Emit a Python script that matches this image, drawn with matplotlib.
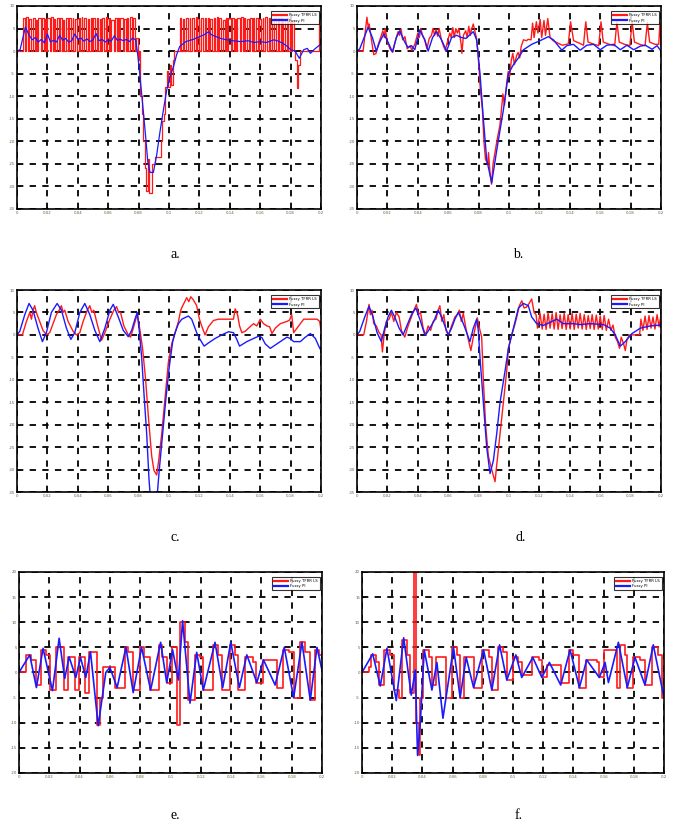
import numpy as np
import matplotlib.pyplot as plt

# time in ms
# panel a
red_a = [(0, 0), (4, 7.3), (5, 0), (6, 7.5), (7, 0), (8, 7.2), (9.5, 0), (10.5, 7.3), (11.5, 0), (12.5, 7.0),
         (13, 0), (14, 7.4), (15.5, 0), (16.5, 7.3), (17.5, 0), (18.5, 7.1), (19, 0), (20, 7.3), (21.5, 0),
         (22.5, 7.5), (23.5, 0), (24.5, 7.2), (25, 0), (26, 7.3), (27.5, 0), (28.5, 7.3), (29.5, 0), (30.5, 7.0),
         (31, 0), (32, 7.3), (33.5, 0), (34.5, 7.4), (35.5, 0), (36.5, 7.3), (37, 0), (38, 7.2), (39.5, 0),
         (40.5, 7.3), (41.5, 0), (42.5, 7.5), (43, 0), (44, 7.3), (45.5, 0), (46.5, 7.1), (47.5, 0), (48.5, 7.3),
         (49, 0), (50, 7.4), (51.5, 0), (52.5, 7.3), (53.5, 0), (54.5, 7.2), (55, 0), (56, 7.3), (57.5, 0),
         (58.5, 7.5), (59.5, 0), (60.5, 7.3), (61, 0), (62, 7.0), (63.5, 0), (64.5, 7.3), (65.5, 0), (66.5, 7.4),
         (67, 0), (68, 7.3), (69.5, 0), (70.5, 7.2), (71.5, 0), (72.5, 7.3), (73, 0), (74, 7.5), (75.5, 0),
         (76.5, 7.3), (77.5, 0), (78.5, 3), (79.5, -2), (80.5, 0), (81, -10), (82, -14), (83, -20), (84, -26),
         (85, -31), (86, -24), (87, -31.5), (89, -25), (90.5, -23.5), (95, -20), (95.5, -15.5), (96.5, -14),
         (97.5, -8), (98.5, -4.5), (99.5, -8), (100.5, -3), (101.5, -7.5), (102.5, -2), (103.5, 0), (107, 7.3),
         (108, 0), (109, 7.2), (110, 0), (111, 7.4), (112.5, 0), (113.5, 7.3), (114, 0), (115, 7.3), (116.5, 0),
         (117.5, 7.5), (118.5, 0), (119.5, 7.1), (120, 0), (121, 7.3), (122.5, 0), (123.5, 7.3), (124.5, 0),
         (125.5, 7.4), (126, 0), (127, 7.2), (128.5, 0), (129.5, 7.3), (130.5, 0), (131.5, 7.5), (132, 0),
         (133, 7.3), (134.5, 0), (135.5, 7.0), (136.5, 0), (137.5, 7.3), (138, 0), (139, 7.4), (140.5, 0),
         (141.5, 7.3), (142.5, 0), (143.5, 7.2), (144, 0), (145, 7.3), (146.5, 0), (147.5, 7.5), (148.5, 0),
         (149.5, 7.3), (150, 0), (151, 7.1), (152.5, 0), (153.5, 7.3), (154.5, 0), (155.5, 7.4), (156, 0),
         (157, 7.3), (158.5, 0), (159.5, 7.2), (160.5, 0), (161.5, 7.3), (162, 0), (163, 7.5), (164.5, 0),
         (165.5, 7.3), (166.5, 0), (167.5, 7.0), (168, 0), (169, 7.3), (170.5, 0), (171.5, 7.4), (172.5, 0),
         (173.5, 7.3), (174, 0), (175, 7.2), (176.5, 0), (177.5, 7.3), (178.5, 0), (179.5, 7.0), (180, 0),
         (181, 7.0), (182, 0), (183, -2), (184, -8.2), (185, -3), (186, 0), (198.5, 7.0), (200, 7.0)]
blue_a = [(0, 0), (2, 0.3), (5.5, 5.3), (8, 3.5), (10, 2.5), (12, 3.0), (14, 2.0), (16, 2.6), (18, 1.8), (20, 3.8),
          (22, 2.0), (24, 2.4), (26, 2.0), (28, 3.5), (30, 2.4), (32, 2.8), (34, 2.0), (36, 2.3), (38, 3.8),
          (40, 2.6), (42, 2.9), (44, 2.2), (46, 2.7), (48, 2.1), (50, 2.5), (52, 3.9), (54, 2.3), (56, 2.6),
          (58, 2.0), (60, 2.5), (62, 2.2), (64, 3.4), (66, 2.4), (68, 2.6), (70, 2.3), (72, 2.6), (74, 2.1),
          (76, 2.9), (78, 2.5), (79.5, -1), (81, -6), (83, -13), (85, -20.4), (86, -24.4), (87.5, -26.9),
          (89.7, -26.9), (91.9, -23), (94, -18), (96, -13.7), (98.5, -8.6), (100.7, -5.6), (103, -3.4),
          (105, -0.8), (107, 1.0), (111, 2.1), (116, 2.6), (120, 3.2), (123, 3.6), (126, 4.3), (128, 3.6),
          (131, 3.2), (134, 2.8), (138, 2.5), (142, 2.3), (147, 2.1), (152, 2.3), (156, 1.9), (160, 2.1),
          (164, 1.9), (169, 2.5), (172, 2.2), (175, 1.7), (178, 1.0), (180, 0.3), (183, 0.0), (185.7, -1.6),
          (188.6, 0.3), (191, 0.6), (193, -0.5), (196, 0.5), (200, 1.6)]

# panel b
red_b = [(0, 0), (4, 0), (6.5, 7.5), (7.5, 5), (8, 6), (9.5, 2.5), (11, -0.8), (12.5, -0.5), (14, 1.5), (15.5, 3),
         (17, 4.5), (18, 3), (18.5, 5), (20, 2), (22, 0.3), (23.5, -0.2), (25, 2), (27, 4.3), (28, 3.5), (29, 4.8),
         (30, 2.5), (31.5, 3.2), (33, 0.5), (35, 1.2), (36, 0.2), (38, 1.5), (40, 4), (41, 3), (42, 5), (43, 3.5),
         (44.5, 2.5), (46, 0.5), (47.5, 2.8), (49, 3.5), (50, 5), (51, 3.5), (52, 4.8), (53, 3.3), (54, 5),
         (55.5, 2.5), (57, 1), (58, 0.2), (59.5, 2), (61, 4), (62, 3), (63, 5.2), (64, 3), (65, 5), (66, 4),
         (67, 5), (68.5, 1.5), (69, -0.5), (70, 3.5), (71.5, 4.5), (72.5, 3), (73.5, 5.5), (74.5, 3.5), (75.5, 5),
         (76.5, 6), (77.5, 4.5), (78.5, 3), (79.5, 0), (80.5, -5), (81, -8), (82.5, -13), (83.5, -20),
         (84.5, -24), (86, -25), (86.5, -22.5), (87.5, -27), (88.5, -29.5), (89.5, -25), (91, -22), (92.5, -19),
         (94, -16.5), (95, -13), (96, -9.5), (97, -12), (98.5, -7), (99.5, -4.5), (100.5, -5.5), (101.5, -2),
         (102.5, -0.5), (103.5, -3), (105, -1), (106, -0.3), (107, -1.5), (108, 1), (109.5, 2.5), (111.5, 2.3),
         (112.5, 2.6), (114.5, 2.5), (115.5, 6.2), (116.5, 3), (118, 6.5), (119, 4), (120.5, 7), (121.5, 3),
         (123, 6.8), (124, 3.5), (125.5, 7.2), (127, 3), (129, 2.3), (132, 1.8), (135, 1.3), (139, 1.6),
         (140.5, 6.5), (142.5, 2.3), (146, 1.8), (149, 1.3), (150.5, 6.5), (152, 2), (156, 1.5), (159, 1.2),
         (160.5, 6.5), (162, 2), (166, 1.5), (169.5, 1.2), (171, 6.5), (172.5, 2), (176, 1.5), (179.5, 1.2),
         (181, 6.5), (182.5, 2), (186, 1.5), (189.5, 1.2), (191, 6.3), (192.5, 2), (196, 1.5), (198.5, 1.5),
         (199.3, 6.3), (200, 1)]
blue_b = [(0, 0), (1.8, 0.5), (7.3, 5.3), (10.1, 3.0), (12.7, 0.0), (14.9, 2.0), (17.6, 3.8), (20.4, 2.0),
          (23.3, -0.2), (25.9, 3.0), (28.1, 4.5), (31.4, 2.0), (33.6, 0.8), (35.8, 1.2), (38.0, 0.3), (41.3, 4.7),
          (44.6, 2.5), (46.8, 0.0), (49.7, 3.0), (52.3, 4.3), (55.6, 2.5), (58.9, 0.0), (62.2, 3.0), (65.5, 3.5),
          (68.8, 3.0), (71.6, 2.8), (76.5, 4.3), (78.7, 2.5), (80.9, -5), (83.1, -15), (85.3, -24),
          (88.6, -29.2), (91.9, -22), (96.3, -13), (99.6, -5), (102.9, -3), (106.2, -1.5), (109.5, 0.3),
          (114.9, 1.5), (120.4, 2.3), (125.9, 3.2), (129.2, 2.5), (134.7, 0.2), (138.0, 1.2), (142.4, 1.5),
          (146.8, 0.2), (151.2, 1.3), (155.6, 1.5), (160.0, 0.3), (164.4, 1.3), (168.8, 1.5), (173.2, 0.3),
          (177.6, 1.3), (182.0, 0.3), (186.4, 1.1), (189.7, 1.3), (194.1, 0.4), (197.4, 1.2), (200, 0.0)]

# panel c
red_c = [(0, 0), (3.5, 0), (6.2, 3), (8.4, 5), (9.5, 3.5), (10.5, 5.5), (11.6, 6.5), (12.7, 5), (14.9, 3),
         (17.1, 1), (19.3, 0), (21.5, 0.5), (23.7, 2.5), (25.9, 4.5), (27.7, 5.5), (29.2, 6.5), (30.3, 5),
         (31.4, 5.5), (33.6, 3), (36.9, 0.8), (39.1, 0), (41.3, 0.5), (43.5, 3), (46.2, 5.5), (47.9, 6.5),
         (49.2, 5), (50.5, 5.5), (52.7, 2.5), (55.6, -1.2), (57.8, 0.5), (61.1, 3.5), (63.7, 5.5), (65.5, 6.3),
         (66.8, 5), (68.1, 5), (70.3, 2), (73.2, 0), (74.7, -0.5), (76.5, 1.5), (79.1, 4.7), (80.9, 1),
         (82.6, -3), (84.6, -10), (86.6, -19), (88.6, -27), (90.1, -30.2), (91.9, -31.2), (93.2, -28),
         (95.2, -22), (97.4, -14), (99.6, -6), (101.8, -2), (104, 0.5), (106.2, 3), (107.7, 5.5), (109, 6.5),
         (110.5, 7.5), (111.6, 8.3), (113, 7.4), (114.3, 8.5), (116, 7.8), (118.2, 6.5), (120, 3.5), (121.5, 2),
         (123.7, 0), (125.9, 1.8), (129.2, 3.2), (132.5, 3.5), (140.2, 3.5), (142.4, 3.5), (143.5, 5.8),
         (145.1, 4.5), (146.4, 2), (147.9, 0.5), (150.1, 0.8), (152.3, 1.5), (155.6, 2.5), (157.8, 2),
         (160, 3.5), (162.2, 2.5), (164.4, 2), (166.2, 1.8), (167.7, 0.3), (169.9, 1.5), (173.2, 2.5),
         (177.6, 3), (179.3, 3.3), (180.7, 4.5), (182, 0.5), (184.2, 1.5), (186.4, 2.5), (188.6, 3.5),
         (194.1, 3.5), (197.4, 3.5), (199.1, 3), (200, 1)]
blue_c = [(0, 0), (1.8, 0.8), (5.1, 4.5), (7.9, 7), (10.5, 5.5), (13.8, 1.5), (16.7, -1.5), (19.3, 0.5),
          (22.6, 5), (26.4, 7), (29.2, 5.5), (32.5, 1.5), (35.4, -1), (38, 0.5), (41.3, 5), (44.6, 7), (47.9, 4.5),
          (51.2, 1), (54.5, -1.5), (57.8, 1.5), (61.1, 5.5), (63.3, 6.8), (66.6, 4), (69.9, 1), (73.2, -0.4),
          (75.4, 1), (77.6, 3.5), (79.1, 5), (80.4, 1), (82, -5), (83.5, -13), (85.3, -22), (86.8, -32),
          (87.9, -37), (91.9, -37), (93.6, -30), (95.8, -22), (98, -14), (100.2, -7), (102.4, -1.5), (104, 0.5),
          (106.2, 2.5), (108.4, 3.5), (112.7, 4.2), (114.9, 3.5), (118.2, 0.5), (120.4, -1), (123.1, -2.5),
          (125.9, -1.8), (130.3, -0.8), (134.7, 0), (139.1, 0.7), (142.4, 0.5), (144.6, -1), (146.4, -2.5),
          (151.2, -1.5), (155.6, -0.8), (158.9, -0.3), (161.1, -0.6), (163.3, -2), (166.6, -3), (171, -2),
          (177.6, -0.5), (179.8, -0.8), (182, -1.5), (186.4, -1.5), (189.7, -0.5), (193, 0.3), (196.3, -0.8),
          (198.5, -2.5), (200, -3.5)]

# panel d
red_d = [(0, 0), (4.4, 0), (6.2, 3), (7.9, 6.8), (8.8, 4.5), (9.9, 5.5), (11, 2.5), (12.7, 2), (14.5, 0.5),
         (15.8, 0), (16.7, -3.8), (17.8, 0), (19.3, 3), (21.1, 3.5), (22.6, 5), (24.2, 3), (25.9, 5), (27.7, 4),
         (29.2, 1), (31.4, -0.5), (33.6, 2), (35.8, 4), (37.4, 5.5), (39.1, 6.8), (40.4, 4.5), (41.8, 5),
         (43.5, 1.5), (45.1, 0), (46.8, 2), (48.4, 1), (50.1, 3), (51.9, 3.5), (53.4, 5.5), (54.5, 6.5),
         (55.8, 3), (57.1, 4.5), (58.5, 1), (60.2, 0), (62.2, 2), (64.4, 4), (65.9, 4.5), (67.3, 5.5), (68.6, 3),
         (69.9, 4.8), (71.6, 1.5), (73.2, -1), (74.9, -3.5), (76.5, -0.5), (79.1, 3.8), (80.9, 1), (82, -0.5),
         (83.1, -10), (84.6, -20), (86.4, -27), (88.6, -30), (90.8, -32.7), (91.9, -29), (94.1, -22),
         (96.3, -15), (98.5, -8), (99.6, -3), (101.8, 0), (104, 2.5), (105.1, 4), (106.8, 6.5), (108.4, 7.6),
         (109.9, 6), (111.6, 6.2), (113.2, 7), (114.9, 8), (116.5, 5), (117.8, 4.5), (118.7, 1.5), (120.4, 4.8),
         (121.8, 1.3), (123.1, 4.6), (124.4, 1.2), (125.7, 4.9), (127, 1.5), (128.4, 4.7), (129.7, 1.3),
         (131, 5), (132.3, 1.2), (133.6, 4.5), (134.9, 1.4), (136.3, 4.8), (137.6, 1.2), (138.9, 4.5),
         (140.2, 1.3), (141.5, 4.8), (142.9, 1.2), (144.2, 4.6), (145.5, 1.5), (146.8, 4.8), (148.1, 1.3),
         (149.5, 4.5), (150.8, 1.2), (152.1, 4.3), (153.4, 1.4), (154.7, 4.5), (156, 1.2), (157.4, 4.4),
         (158.7, 1.3), (160, 4.2), (161.3, 1.2), (162.6, 4.3), (164, 1), (165.5, 3.5), (167, 1), (168.4, 2.2),
         (169.9, -0.5), (171.4, -1.5), (172.7, -3), (173.8, -0.5), (175.4, -2), (176.5, -3.5), (177.6, -1),
         (179.3, 0), (185.9, 0), (186.8, 3.5), (188.1, 1), (189.5, 4.2), (190.8, 1.2), (192.1, 4.3),
         (193.4, 1.5), (194.7, 4), (196, 1.3), (197.4, 4.5), (198.7, 1.8), (200, 4.5)]
blue_d = [(0, 0), (1.8, 0.8), (5.1, 4), (7.9, 6.4), (10.5, 4), (13.2, 0.5), (16, -1.5), (18.2, 1.5), (20.4, 4),
          (22.6, 5.5), (24.8, 4), (27.7, 1.5), (30.3, 0), (32.5, 1.8), (35.8, 4.5), (38.7, 6), (41.3, 3.5),
          (44.6, 0), (46.2, 0.5), (47.9, 1.5), (50.5, 3), (53.4, 5.5), (55.6, 4), (57.8, 2), (60, 0), (62.2, 1.5),
          (64.4, 3.5), (66.6, 5), (68.8, 3.5), (71.6, 1), (74.3, -1.5), (76.5, 1.5), (78.7, 3.5), (79.8, 1),
          (80.9, -5), (83.1, -15), (85.3, -25), (87.5, -30.9), (89.7, -28), (91.9, -22), (94.1, -15),
          (97.4, -8), (99.6, -3), (101.8, 0), (104, 3), (106.2, 6), (109.5, 7), (112.7, 6.5), (114.9, 4),
          (118.2, 2.5), (122.6, 2.1), (127, 2.8), (131.4, 3.5), (135.8, 2.5), (142.4, 2.5), (146.8, 2.3),
          (153.4, 2.5), (162.2, 2.3), (166.6, 1.5), (169.9, 0), (173.2, -2.5), (176.5, -1.5), (180.9, 0.3),
          (186.4, 1.5), (193, 2), (200, 2.2)]

# panel e (red is held between samples)
red_e = [(0, 0), (4.9, 3.5), (8.2, 2.5), (11.5, -2.5), (14.8, 4.5), (18.1, 3.5), (20.7, -3.5), (24.3, 5),
         (29.5, -3.5), (32.4, 3), (36.8, -3.5), (39.7, 3), (43.4, -4), (46.3, 4), (51.2, -10.5), (53.4, -5),
         (55.6, 1), (63.3, -3), (69.9, 5), (72.1, 4), (75, -3.5), (79.8, 5), (82.5, 3), (86.4, -3.5), (92.6, 5.5),
         (94.6, 3), (97.5, -2), (100.8, 5), (104.1, -10.5), (106.3, 10), (109.6, 6), (111.8, -5.5), (116.2, 3.5),
         (119.5, 3), (121.7, -3.5), (128.3, 5.5), (131.6, 3.5), (133.8, -3.5), (139.4, 5.5), (142.7, 3.5),
         (144.9, -3.5), (149.3, 3), (154.8, 2), (156.6, -2), (161, 2.5), (170.2, -3), (174.6, 4.5), (178, 4),
         (181.3, -5), (185.7, 6), (189, 4), (192.3, -5.5), (195.6, 4.5), (197.8, 3.5), (200, 3.5)]
blue_e = [(0, 0), (7.1, 3.5), (11.5, -3), (15.9, 4.8), (22.1, -3.6), (26.5, 6.8), (30.2, -1.2), (33.1, 3.1),
          (37.5, -1), (40.6, 3), (44.1, -1), (47.2, 4.1), (52.3, -10.6), (57.3, 0), (60, 1), (64.8, -3),
          (70.6, 5), (75.4, -4), (80.9, 5), (86.9, -3.5), (93.5, 6), (97.5, -2), (101.4, 4.5), (105.2, -1.5),
          (108, 10.3), (112.9, -6.1), (117.3, 4), (121.7, -3.5), (129.4, 6), (134.5, -3), (139.8, 6),
          (145.5, -3), (150.4, 3.5), (157, -2), (161.4, 2.5), (169.1, -2.5), (175.1, 5), (181.3, -5),
          (186.8, 6), (192.3, -5.5), (196.7, 5), (200, 0.5)]

# panel f
red_f = [(0, 0), (4.4, 1), (6, 3.5), (9.5, 2), (11, -2.5), (14.8, 4.5), (18.3, 3.5), (20.9, -3.5), (24.3, -5),
         (26.5, 6.5), (29.8, 3.5), (32, -4), (34.6, 25), (35.9, -10), (37.5, -16.5), (38.6, -5), (40.4, 4.5),
         (44.1, 3), (46.3, -2.5), (49.2, 3), (55.8, -5), (59.5, 5), (62.8, 3.5), (65, -5), (67.7, 3),
         (73.9, -3), (79.4, 4.5), (83.8, 3), (86, -3.5), (90.4, 5), (93.7, 4), (95.9, -1.5), (100.3, 3),
         (103.6, 2), (105.8, -0.5), (112.5, 3), (116.9, 2.5), (119.1, -1), (122.8, 1.5), (131.6, -2),
         (137.4, 4.5), (140, 3.5), (144, -3), (148.4, 2.5), (155.5, 2), (157.2, -1), (160.3, 4.5), (168.7, -3),
         (170.9, 5.5), (174.2, 3.5), (175.7, -3), (179.7, 3), (184.1, 2.5), (187.4, -2.5), (191.8, 5),
         (196.2, 3.5), (198.5, -5), (200, -5)]
blue_f = [(0, 0), (7.1, 3.7), (12.1, -2.7), (16.5, 4.8), (22.7, -5.6), (27.6, 6.9), (32.6, -4.5), (35.3, 0.5),
          (36.8, -16.5), (38.6, -10), (41.2, 4.5), (46.3, -3.5), (49.6, 2), (53.6, -9.1), (60.6, 5), (65, -5),
          (69, 3), (73.9, -3), (80.5, 4.5), (86, -3.5), (91.1, 5.5), (95.9, -1.5), (101.9, 3.5), (105.8, -1),
          (113.1, 3), (119.1, -1), (124.1, 2), (131.6, -2.5), (137.8, 4.5), (144, -3), (148.8, 2.5),
          (157.2, -1), (161, 2), (163.2, -2), (169.8, 6), (175.7, -3), (180.8, 3), (187.4, -2.5), (192.9, 5.5),
          (200, -5)]

series_names = ['Fuzzy TFRR LS', 'Fuzzy PI']
x_ticks = [0, 0.02, 0.04, 0.06, 0.08, 0.1, 0.12, 0.14, 0.16, 0.18, 0.2]
x_labels = ['0', '0.02', '0.04', '0.06', '0.08', '0.1', '0.12', '0.14', '0.16', '0.18', '0.2']
y_ticks_top = [10, 5, 0, -5, -10, -15, -20, -25, -30, -35]
y_ticks_bot = [20, 15, 10, 5, 0, -5, -10, -15, -20]
captions = ['a.', 'b.', 'c.', 'd.', 'e.', 'f.']

# red data, blue data, red draw style, y ticks, line width
panels = [(red_a, blue_a, 'steps-post', y_ticks_top, 0.9),
          (red_b, blue_b, 'default', y_ticks_top, 1.0),
          (red_c, blue_c, 'default', y_ticks_top, 1.0),
          (red_d, blue_d, 'default', y_ticks_top, 1.0),
          (red_e, blue_e, 'steps-post', y_ticks_bot, 1.2),
          (red_f, blue_f, 'steps-post', y_ticks_bot, 1.2)]

# axes boxes (left, bottom, width, height) in figure fraction
boxes = [[0.0253, 0.7482, 0.4517, 0.2446], [0.5305, 0.7482, 0.4517, 0.2446],
         [0.0253, 0.4072, 0.4517, 0.2434], [0.5305, 0.4072, 0.4517, 0.2434],
         [0.0282, 0.0687, 0.4502, 0.2422], [0.5379, 0.0687, 0.4487, 0.2422]]
cap_pos = [(0.260, 0.693), (0.770, 0.693), (0.260, 0.352), (0.773, 0.352), (0.260, 0.018), (0.770, 0.018)]

fig = plt.figure(figsize=(6.73, 8.30), dpi=100)
fig.patch.set_facecolor('white')

for i, (red, blue, ds, yt, lw) in enumerate(panels):
    ax = fig.add_axes(boxes[i])
    r = np.array(red, dtype=float)
    b = np.array(blue, dtype=float)
    ax.plot(r[:, 0] / 1000, r[:, 1], color='#ff1a1a', lw=lw, drawstyle=ds, label=series_names[0])
    ax.plot(b[:, 0] / 1000, b[:, 1], color='#1a1aff', lw=lw, label=series_names[1])
    ax.set_xlim(0, 0.2)
    ax.set_ylim(yt[-1], yt[0])
    ax.set_xticks(x_ticks)
    ax.set_xticklabels(x_labels)
    ax.set_yticks(yt)
    ax.set_yticklabels([str(v) for v in yt])
    ax.grid(True, color='black', linestyle=(0, (3.5, 3.5)), lw=1.3)
    ax.tick_params(direction='in', length=2, width=0.6, labelsize=2.8, pad=1.5, labelcolor='#6b5a3a')
    for s in ax.spines.values():
        s.set_linewidth(1.2)
    leg = ax.legend(loc='upper right', bbox_to_anchor=(0.992, 0.975), fontsize=2.8, frameon=True,
                    fancybox=False, edgecolor='black', borderpad=0.5, handlelength=3.5,
                    labelspacing=0.4, handletextpad=0.5, borderaxespad=0)
    leg.get_frame().set_linewidth(0.8)
    for h in leg.get_lines():
        h.set_linewidth(1.6)
    fig.text(cap_pos[i][0], cap_pos[i][1], captions[i], fontsize=10, family='Liberation Serif',
             ha='center', va='center')

plt.savefig('out.png', dpi=100)
